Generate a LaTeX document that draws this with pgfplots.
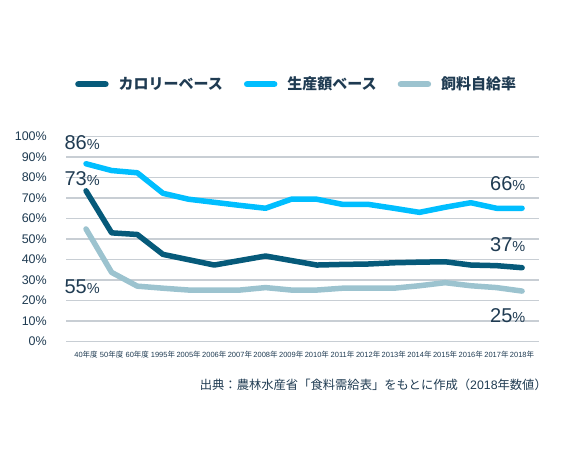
\documentclass[border=0pt]{standalone}
\usepackage{fontspec}
\setmainfont{Liberation Sans}
\newfontfamily\cjk{Noto Sans CJK JP}
\usepackage{pgfplots}
\pgfplotsset{compat=1.18}
\definecolor{calc}{HTML}{065A7A}
\definecolor{prodc}{HTML}{00BEFF}
\definecolor{feedc}{HTML}{9CC3CF}
\definecolor{gridc}{HTML}{C8CED4}
\definecolor{navy}{HTML}{1F3B52}
\newcommand\D[1]{#1{\cjk 年度}}
\newcommand\Y[1]{#1{\cjk 年}}
\newcommand\pct[1]{{\fontsize{20}{22}\selectfont #1}{\fontsize{14.5}{16}\selectfont\%}}
\pgfplotstableread{
x cal prod feed
0 73.5 86.7 54.9
1 53.0 83.4 33.7
2 52.2 82.3 27.0
3 42.5 72.3 26.0
4 39.9 69.4 25.1
5 37.3 67.9 25.1
6 39.5 66.4 25.1
7 41.7 65.0 26.3
8 39.5 69.4 25.1
9 37.3 69.4 25.1
10 37.6 66.9 26.0
11 37.8 66.9 26.0
12 38.4 65.0 26.0
13 38.7 63.0 27.2
14 38.9 65.5 28.7
15 37.3 67.7 27.2
16 37.0 65.0 26.3
17 36.0 65.0 24.6
}\data
\begin{document}
\begin{tikzpicture}
\path[use as bounding box] (0,0) rectangle (561pt,461pt);
\begin{axis}[
  at={(66pt,119.5pt)}, anchor=south west,
  scale only axis, width=473pt, height=205pt,
  xmin=-0.78, xmax=17.66, ymin=0, ymax=100,
  axis line style={draw=none}, major tick length=0pt,
  ytick={0,10,...,100},
  yticklabels={0\%,10\%,20\%,30\%,40\%,50\%,60\%,70\%,80\%,90\%,100\%},
  yticklabel style={font=\fontsize{12.5}{14}\selectfont, text=navy, anchor=east, inner sep=0pt, xshift=-19pt},
  xtick={0,...,17},
  xticklabels={\D{40},\D{50},\D{60},\Y{1995},\Y{2005},\Y{2006},\Y{2007},\Y{2008},\Y{2009},\Y{2010},\Y{2011},\Y{2012},\Y{2013},\Y{2014},\Y{2015},\Y{2016},\Y{2017},\Y{2018}},
  xticklabel style={font=\fontsize{7.5}{8}\selectfont, text=navy, anchor=north, inner sep=0pt, yshift=-9pt},
  ymajorgrids, grid style={color=gridc, line width=1.2pt},
  clip=false,
  legend columns=3,
  legend style={draw=none, fill=none, at={(0.0190,1.255)}, anchor=west, inner sep=0pt,
    font=\cjk\bfseries\fontsize{15}{16}\selectfont, text=navy,
    nodes={inner sep=0pt},
    /tikz/every odd column/.append style={column sep=10pt},
    /tikz/every even column/.append style={column sep=21pt}},
  legend image code/.code={\draw[#1, line width=6.5pt, line cap=round] (0pt,0pt) -- (27pt,0pt);},
]
\addplot[calc, line width=5.5pt, line join=round, line cap=round] table[x=x,y=cal] {\data};
\addlegendentry{カロリーベース}
\addplot[prodc, line width=5.5pt, line join=round, line cap=round] table[x=x,y=prod] {\data};
\addlegendentry{生産額ベース}
\addplot[feedc, line width=5.5pt, line join=round, line cap=round] table[x=x,y=feed] {\data};
\addlegendentry{飼料自給率}
\node[anchor=base west, inner sep=0pt, text=navy] at (axis cs:-0.846,93.9) {\pct{86}};
\node[anchor=base west, inner sep=0pt, text=navy] at (axis cs:-0.846,76.3) {\pct{73}};
\node[anchor=base west, inner sep=0pt, text=navy] at (axis cs:-0.846,23.5) {\pct{55}};
\node[anchor=base west, inner sep=0pt, text=navy] at (axis cs:15.75,73.6) {\pct{66}};
\node[anchor=base west, inner sep=0pt, text=navy] at (axis cs:15.75,43.8) {\pct{37}};
\node[anchor=base west, inner sep=0pt, text=navy] at (axis cs:15.75,9.4) {\pct{25}};
\end{axis}
\node[anchor=east, inner sep=0pt, text=navy, font=\cjk\fontsize{12.3}{14}\selectfont] at (547pt,76pt) {出典：農林水産省「食料需給表」をもとに作成（{\rmfamily 2018}年数値）};
\end{tikzpicture}
\end{document}
